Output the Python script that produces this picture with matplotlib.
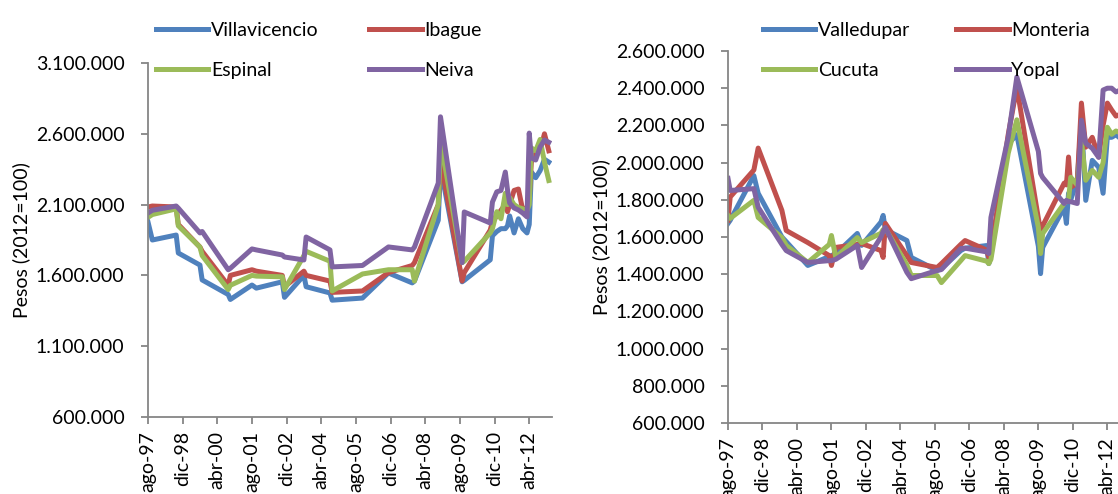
import matplotlib
matplotlib.use("Agg")
import matplotlib.pyplot as plt
import numpy as np
import pandas as pd
from matplotlib.ticker import FuncFormatter

# values in thousands of pesos (2012=100)
left_dates = ['1997-08', '1997-10', '1998-09', '1998-10', '1999-08', '1999-09',
              '2000-09', '2000-10', '2001-08', '2001-10', '2002-10', '2002-11',
              '2003-08', '2003-09', '2004-08', '2004-09', '2005-11', '2006-11',
              '2007-10', '2007-11', '2008-10', '2008-11', '2009-09', '2009-10',
              '2010-10', '2010-11', '2011-01', '2011-03', '2011-05', '2011-06',
              '2011-07', '2011-09', '2011-11', '2012-01', '2012-03', '2012-04',
              '2012-05', '2012-07', '2012-09', '2012-11', '2013-01']
villavicencio = [1977, 1850, 1885, 1758, 1673, 1568, 1465, 1430, 1532, 1510, 1555,
                 1445, 1600, 1520, 1476, 1425, 1440, 1617, 1547, 1560, 1990, 2365,
                 1555, 1565, 1710, 1880, 1910, 1930, 1930, 1950, 2020, 1900, 2000,
                 1930, 1900, 1960, 2330, 2290, 2340, 2420, 2400]
ibague = [2083, 2090, 2083, 1960, 1800, 1770, 1530, 1600, 1640, 1630, 1600, 1520,
          1630, 1600, 1560, 1480, 1490, 1620, 1670, 1690, 2100, 2420, 1560, 1620,
          1920, 1980, 2020, 2060, 2100, 2050, 2100, 2200, 2210, 2060, 2080, 2150,
          2400, 2460, 2480, 2600, 2480]
espinal = [2010, 2030, 2070, 1950, 1800, 1740, 1500, 1530, 1600, 1595, 1590, 1500,
           1740, 1770, 1700, 1490, 1610, 1640, 1640, 1560, 2100, 2550, 1690, 1700,
           1900, 1930, 2050, 2000, 2180, 2100, 2150, 2100, 2080, 2070, 2060, 2100,
           2500, 2480, 2560, 2400, 2270]
neiva = [2041, 2060, 2090, 2075, 1900, 1910, 1640, 1650, 1787, 1780, 1744, 1730,
         1709, 1871, 1780, 1660, 1670, 1801, 1780, 1800, 2252, 2720, 1690, 2048,
         1970, 2118, 2190, 2200, 2330, 2203, 2111, 2076, 2062, 2040, 2013, 2605,
         2430, 2415, 2507, 2556, 2540]

right_dates = ['1997-08', '1997-09', '1998-08', '1998-10', '1999-09', '1999-11',
               '2000-09', '2001-07', '2001-08', '2001-10', '2002-08', '2002-10',
               '2003-07', '2003-08', '2003-09', '2004-07', '2004-09', '2005-09',
               '2005-11', '2006-08', '2006-10', '2007-08', '2007-09', '2007-10',
               '2008-06', '2008-10', '2009-08', '2009-09', '2009-10', '2010-08',
               '2010-09', '2010-10', '2010-11', '2011-02', '2011-04', '2011-06',
               '2011-09', '2011-12', '2012-02', '2012-04', '2012-06', '2012-08',
               '2012-10']
valledupar = [1673, 1690, 1930, 1835, 1600, 1575, 1447, 1495, 1500, 1510, 1619,
              1555, 1680, 1716, 1640, 1581, 1490, 1420, 1430, 1527, 1540, 1554,
              1457, 1500, 2100, 2150, 1550, 1403, 1544, 1760, 1673, 1835, 1800,
              1905, 2228, 1797, 2012, 1975, 1835, 2136, 2136, 2150, 2130]
monteria = [1690, 1815, 1960, 2078, 1743, 1635, 1570, 1500, 1447, 1544, 1560, 1565,
            1527, 1490, 1673, 1500, 1463, 1436, 1457, 1560, 1581, 1530, 1490, 1520,
            2150, 2406, 1700, 1635, 1660, 1890, 1880, 2030, 1867, 1890, 2320, 2083,
            2136, 2030, 2200, 2320, 2283, 2250, 2260]
cucuta = [1716, 1700, 1797, 1705, 1597, 1555, 1463, 1560, 1608, 1490, 1597, 1570,
          1620, 1640, 1646, 1450, 1393, 1393, 1355, 1473, 1500, 1470, 1457, 1480,
          2050, 2230, 1651, 1511, 1619, 1781, 1790, 1800, 1921, 1880, 2120, 1905,
          1958, 1921, 2000, 2190, 2152, 2170, 2160]
yopal = [1915, 1850, 1860, 1760, 1560, 1527, 1463, 1473, 1473, 1480, 1555, 1436,
         1600, 1630, 1651, 1410, 1376, 1420, 1425, 1538, 1540, 1520, 1511, 1705,
         2136, 2460, 2060, 1942, 1920, 1780, 1797, 1790, 1790, 1780, 2228, 2104,
         2077, 2028, 2390, 2400, 2400, 2380, 2390]

tick_labels = ['ago-97', 'dic-98', 'abr-00', 'ago-01', 'dic-02', 'abr-04',
               'ago-05', 'dic-06', 'abr-08', 'ago-09', 'dic-10', 'abr-12']

colors = ['#4F81BD', '#C0504D', '#9BBB59', '#8064A2']
plt.rcParams['font.family'] = ['Lato', 'DejaVu Sans']
plt.rcParams['font.size'] = 14

fig = plt.figure(figsize=(11.18, 4.94), dpi=100)
W, H = 1118, 494


def px_axes(x0, y_top, x1, y_bot):
    return fig.add_axes([x0 / W, 1 - y_bot / H, (x1 - x0) / W, (y_bot - y_top) / H])


def style(ax, ylim, step):
    for s in ['top', 'right']:
        ax.spines[s].set_visible(False)
    for s in ['left', 'bottom']:
        ax.spines[s].set_color('#868686')
        ax.spines[s].set_linewidth(1.3)
    ax.set_ylim(*ylim)
    ax.set_yticks(np.arange(ylim[0], ylim[1] + 1, step))
    ax.yaxis.set_major_formatter(FuncFormatter(lambda v, p: f'{v:,.0f}'.replace(',', '.')))
    ticks = pd.date_range('1997-08-01', periods=len(tick_labels), freq='16MS')
    ax.set_xticks(ticks)
    ax.set_xticklabels(tick_labels, rotation=90)
    ax.set_xlim(pd.Timestamp('1997-08-01'), pd.Timestamp('2013-02-15'))
    ax.tick_params(colors='#868686', labelcolor='black', length=5, width=1.3)
    ax.tick_params(axis='y', pad=12)
    ax.tick_params(axis='x', pad=5)
    ax.set_ylabel('Pesos (2012=100)', labelpad=4)


def add_legend(ax, x0, colspace):
    h, l = ax.get_legend_handles_labels()
    order = [0, 2, 1, 3]  # row-wise fill for two columns
    ax.legend([h[i] for i in order], [l[i] for i in order], loc='upper left',
              bbox_to_anchor=(x0 / W, 1 - 12 / H), bbox_transform=fig.transFigure,
              ncol=2, frameon=False, borderpad=0, handlelength=2.7,
              handletextpad=0.15, columnspacing=colspace, labelspacing=1.2,
              fontsize=14)


ax1 = px_axes(148, 63, 552, 417)
d1 = pd.to_datetime(left_dates)
for vals, name, c in zip([villavicencio, ibague, espinal, neiva],
                         ['Villavicencio', 'Ibague', 'Espinal', 'Neiva'], colors):
    ax1.plot(d1, np.array(vals) * 1000, color=c, lw=3.6, label=name,
             solid_joinstyle='round')
style(ax1, (600000, 3100000), 500000)
add_legend(ax1, 146, 2.6)

ax2 = px_axes(728, 51, 1130, 423)
d2 = pd.to_datetime(right_dates)
for vals, name, c in zip([valledupar, monteria, cucuta, yopal],
                         ['Valledupar', 'Monteria', 'Cucuta', 'Yopal'], colors):
    ax2.plot(d2, np.array(vals) * 1000, color=c, lw=3.6, label=name,
             solid_joinstyle='round')
style(ax2, (600000, 2600000), 200000)
add_legend(ax2, 753, 2.35)

fig.savefig('out.png', dpi=100)
